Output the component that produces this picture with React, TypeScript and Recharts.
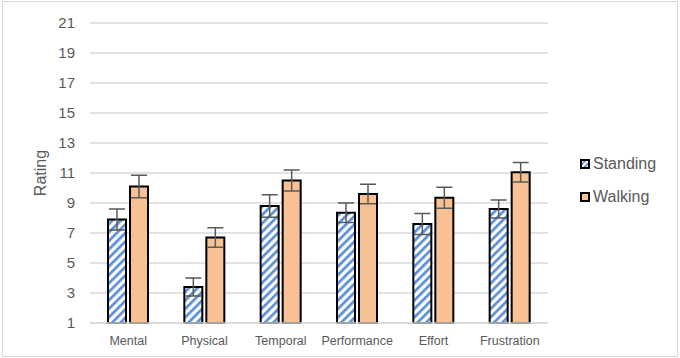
import React from "react";
import { BarChart, Bar, XAxis, YAxis, CartesianGrid, ErrorBar, Label } from "recharts";

const categories = ["Mental", "Physical", "Temporal", "Performance", "Effort", "Frustration"];
const standing = [7.9, 3.4, 8.8, 8.35, 7.6, 8.6];
const standingErr = [0.7, 0.6, 0.75, 0.65, 0.7, 0.6];
const walking = [10.1, 6.7, 10.5, 9.6, 9.35, 11.05];
const walkingErr = [0.75, 0.65, 0.7, 0.65, 0.7, 0.65];
const yTicks = [1, 3, 5, 7, 9, 11, 13, 15, 17, 19, 21];

const FONT = "'Liberation Sans', Arial, sans-serif";
const TEXT = "#595959";
const STRIPE = "#5b8fd4";
const PEACH = "#f7c193";

const rows = categories.map((name, i) => ({
  name,
  standing: standing[i],
  standingErr: standingErr[i],
  walking: walking[i],
  walkingErr: walkingErr[i],
}));

function Stripes({ id, size = 6 }: { id: string; size?: number }) {
  return (
    <pattern id={id} width={size} height={size} patternUnits="userSpaceOnUse" patternTransform="rotate(45)">
      <rect width={size} height={size} fill="#fff" />
      <rect width={size * 0.45} height={size} fill={STRIPE} />
    </pattern>
  );
}

function LegendBox() {
  const item = (label: string, fill: string, top: number) => (
    <div style={{ position: "absolute", left: 0, top, display: "flex", alignItems: "center" }}>
      <svg width={10} height={10} style={{ marginRight: 3 }}>
        <defs>
          <Stripes id="legendStripes" size={4} />
        </defs>
        <rect x={1} y={1} width={8} height={8} fill={fill} stroke="#000" strokeWidth={2} />
      </svg>
      <span style={{ fontFamily: FONT, fontSize: 16, color: TEXT, lineHeight: "18px" }}>{label}</span>
    </div>
  );
  return (
    <div style={{ position: "absolute", left: 580, top: 155 }}>
      {item("Standing", "url(#legendStripes)", 0)}
      {item("Walking", PEACH, 33)}
    </div>
  );
}

export default function App() {
  return (
    <div style={{ position: "fixed", left: 0, top: 0, width: 680, height: 358, background: "#fff" }}>
      <div
        style={{
          position: "absolute",
          left: 2,
          top: 1,
          width: 674,
          height: 354,
          border: "1px solid #d9d9d9",
        }}
      />
      <BarChart
        width={680}
        height={358}
        data={rows}
        margin={{ top: 23, right: 132, bottom: 5, left: 0 }}
        barSize={18}
        barGap={4}
        style={{ position: "absolute", left: 0, top: 0 }}
      >
        <defs>
          <Stripes id="standingStripes" />
        </defs>
        <CartesianGrid vertical={false} stroke="#d9d9d9" strokeWidth={1.5} />
        <XAxis
          dataKey="name"
          height={30}
          axisLine={{ stroke: "#d9d9d9", strokeWidth: 1.5 }}
          tickLine={false}
          tickMargin={7}
          tick={{ fill: TEXT, fontSize: 12.5, fontFamily: FONT }}
        />
        <YAxis
          type="number"
          domain={[1, 21]}
          ticks={yTicks}
          interval={0}
          width={90}
          axisLine={false}
          tickLine={false}
          tickMargin={9}
          tick={{ fill: TEXT, fontSize: 15, fontFamily: FONT }}
        >
          <Label
            value="Rating"
            angle={-90}
            position="insideLeft"
            offset={40}
            style={{ fill: TEXT, fontSize: 16, fontFamily: FONT, textAnchor: "middle" }}
          />
        </YAxis>
        <Bar dataKey="standing" fill="url(#standingStripes)" stroke="#000" strokeWidth={2} isAnimationActive={false}>
          <ErrorBar dataKey="standingErr" width={8} stroke="#595959" strokeWidth={1.5} />
        </Bar>
        <Bar dataKey="walking" fill={PEACH} stroke="#000" strokeWidth={2} isAnimationActive={false}>
          <ErrorBar dataKey="walkingErr" width={8} stroke="#595959" strokeWidth={1.5} />
        </Bar>
      </BarChart>
      <LegendBox />
    </div>
  );
}
